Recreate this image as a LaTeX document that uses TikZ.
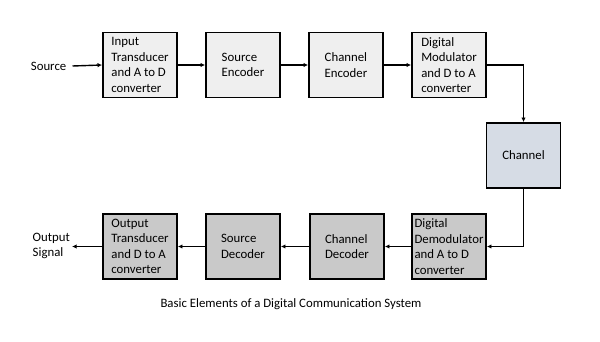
\documentclass[tikz,border=0pt]{standalone}
\usepackage{fontspec}
\setmainfont{Carlito}
\usepackage{xcolor}
\usetikzlibrary{arrows.meta}
\usetikzlibrary{calc}
\definecolor{txgray}{HTML}{EFEFEF}
\definecolor{rxgray}{HTML}{C9C9C9}
\definecolor{chblue}{HTML}{D6DCE5}

\begin{document}
\begin{tikzpicture}[x=1pt, y=-1pt,
	blk/.style={draw, line width=1.9pt, minimum width=74pt, minimum height=65pt, inner sep=0pt, align=left, font=\fontsize{12.8}{15.5}\selectfont},
	lbl/.style={inner sep=2pt, align=left, font=\fontsize{12.8}{15.5}\selectfont},
	flow/.style={line width=1.4pt, -{Latex[length=4.5pt,width=4.5pt]}}]
			
			\useasboundingbox (0,0) rectangle (600,342);
			
			\node[blk, fill=txgray] (inTr) at (140,65) {Input\\Transducer\\and A to D\\converter};
			\node[blk, fill=txgray] (srcEnc) at (243,65) {Source\\Encoder};
			\node[blk, fill=txgray] (chEnc) at (346,65) {Channel\\Encoder};
			\node[blk, fill=txgray] (mod) at (449,65) {Digital\\Modulator\\and D to A\\converter};
			
			\node[blk, fill=chblue] (chan) at (523.5,155.5) {Channel};
			
			\node[blk, fill=rxgray] (demod) at (449,246.5) {Digital\\Demodulator\\and A to D\\converter};
			\node[blk, fill=rxgray] (chDec) at (347,246.5) {Channel\\Decoder};
			\node[blk, fill=rxgray] (srcDec) at (243,246.5) {Source\\Decoder};
			\node[blk, fill=rxgray] (outTr) at (140,246.5) {Output\\Transducer\\and D to A\\converter};
			
			\node[lbl, anchor=east, inner xsep=6pt] (src) at (72.5,66) {Source};
			\node[lbl, anchor=west] (outSig) at (30.5,246) {Output\\Signal};
			
			\draw[flow] (src.east) -- (inTr.west);
			\draw[flow] (inTr.east) -- (srcEnc.west);
			\draw[flow] (srcEnc.east) -- (chEnc.west);
			\draw[flow] (chEnc.east) -- (mod.west);
			\draw[flow] (mod.east) -| (chan.north);
			\draw[flow] (chan.south) |- (demod.east);
			\draw[flow] (demod.west) -- (chDec.east);
			\draw[flow] (chDec.west) -- (srcDec.east);
			\draw[flow] (srcDec.west) -- (outTr.east);
			\draw[flow] (outTr.west) -- (outSig.east |- outTr.west);
			
			\node[lbl] (title) at (291,304) {Basic Elements of a Digital Communication System};
			
\end{tikzpicture}
\end{document}
